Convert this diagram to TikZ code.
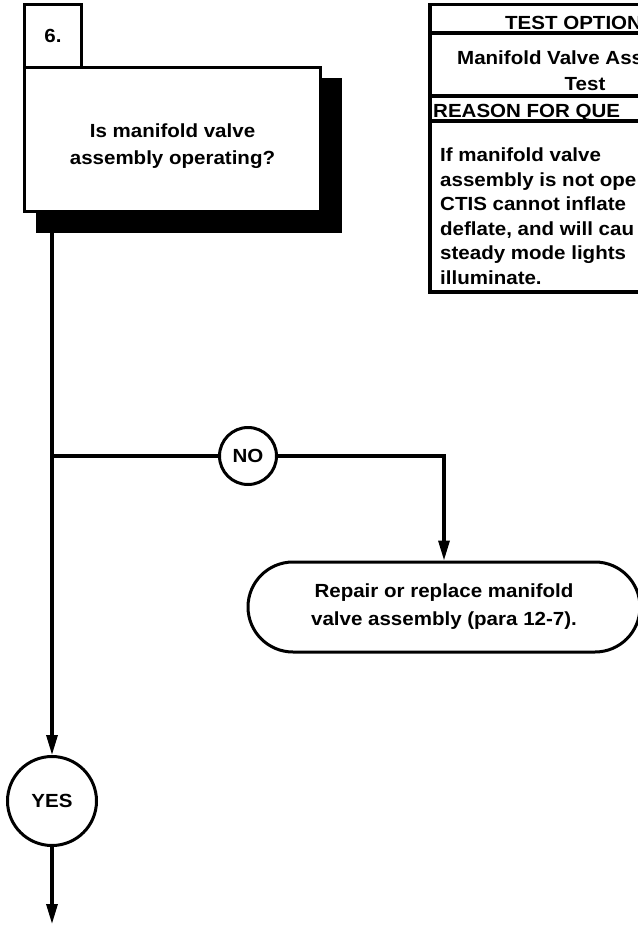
\documentclass[tikz,border=0pt]{standalone}
\usepackage{fontspec}
\setmainfont{Liberation Sans}[FakeStretch=1.08]
\usetikzlibrary{arrows.meta}

\tikzset{
  flow/.style={line width=3.2pt},
  numbox/.style={draw, fill=white, line width=3pt, minimum width=57pt, minimum height=63pt, inner sep=0pt, font=\bfseries\fontsize{19}{27}\selectfont},
  qbox/.style={draw, fill=white, line width=3pt, minimum width=296pt, minimum height=144pt, inner sep=0pt},
  qshade/.style={fill=black, minimum width=306pt, minimum height=155pt, inner sep=0pt},
  qtext/.style={align=center, inner sep=0pt, font=\bfseries\fontsize{19}{27}\selectfont},
  answer/.style={draw, circle, line width=3pt, fill=white, inner sep=0pt, font=\bfseries\fontsize{19}{27}\selectfont},
  action/.style={draw, line width=3pt, rounded corners=45pt, minimum width=392pt, minimum height=90pt, align=center, font=\bfseries\fontsize{19}{28}\selectfont},
  tabtext/.style={inner sep=0pt, font=\bfseries\fontsize{19}{26}\selectfont},
  tabline/.style={line width=3.5pt},
}

\begin{document}
\begin{tikzpicture}[x=1pt, y=-1pt, >={Triangle[length=20pt,width=11pt]}]
    \useasboundingbox (0,0) rectangle (637,926);
    \begin{scope}

      % question block
      \node[qshade] (qs) at (189,155.5) {};
      \node[qbox] (q) at (172.5,139.5) {};
      \node[qtext] (qt) at (172.5,146) {Is manifold valve\\assembly operating?};
      \node[numbox] (num) at (53,36) {6.};

      % test option table
      \draw[tabline] (430,4.5) rectangle (700,292);
      \draw[tabline] (430,33) -- (700,33);
      \draw[tabline] (430,96) -- (700,96);
      \draw[tabline] (430,121) -- (700,121);
      \node[tabtext, anchor=base west] (topt) at (505,29) {TEST OPTION};
      \node[tabtext, anchor=base west] (tname) at (457,64) {Manifold Valve Ass};
      \node[tabtext, anchor=base] (ttest) at (585,90) {Test};
      \node[tabtext, anchor=base west] (treason) at (433,117) {REASON FOR QUE};
      \node[tabtext, anchor=north west, align=left, font=\bfseries\fontsize{19}{24.5}\selectfont] (twhy) at (440,148)
        {If manifold valve\\assembly is not ope\\CTIS cannot inflate\\deflate, and will cau\\steady mode lights\\illuminate.};

      % answers
      \coordinate (trunk) at (52,233);
      \coordinate (split) at (52,456);
      \node[answer, minimum size=57pt] (no) at (248,456) {NO};
      \node[action] (fix) at (444,607) {Repair or replace manifold\\valve assembly (para 12-7).};
      \node[answer, minimum size=89pt] (yes) at (52,801) {YES};
      \coordinate (next) at (52,924);

      \draw[flow] (split) -- (no.west);
      \draw[flow, ->] (no.east) -| (fix.north);
      \draw[flow, ->] (trunk) -- (yes.north);
      \draw[flow, ->] (yes.south) -- (next);

    \end{scope}
\end{tikzpicture}
\end{document}
